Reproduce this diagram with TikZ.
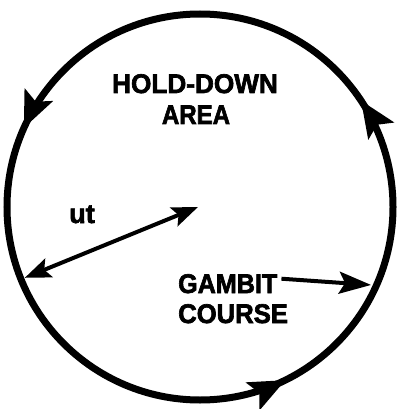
\documentclass[tikz,border=0pt]{standalone}
\usepackage{fontspec}
\setmainfont{Liberation Sans}[BoldFeatures={FakeBold=2.5}]
\usetikzlibrary{arrows.meta,decorations.markings,calc}
\tikzset{
  lbl/.style={font=\fontsize{27}{30}\selectfont\bfseries, inner sep=0pt},
  ring/.style={line width=7pt},
  conn/.style={line width=4pt},
  ctip/.tip={Stealth[length=26pt,width=20pt,inset=5pt]},
  rtip/.tip={Stealth[length=36pt,width=30pt,inset=7pt]},
  gtip/.tip={Stealth[length=32pt,width=22pt,inset=6pt]}
}
\begin{document}
\begin{tikzpicture}[x=1pt,y=1pt]
\useasboundingbox (0,0) rectangle (400,-409);
\coordinate (c) at (200,-207);
% circle with direction marks (counterclockwise)
\draw[ring, postaction={decorate}, decoration={markings,
  mark=at position 0.093 with {\arrow{rtip}},
  mark=at position 0.433 with {\arrow{rtip}},
  mark=at position 0.823 with {\arrow{rtip}}}]
  (c) circle [radius=193];
\coordinate (rimL) at ($(c)+(202:189)$);
\coordinate (ctr) at (198,-207);
\coordinate (rimR) at ($(c)+(-24.5:188)$);
% texts
\node[lbl, anchor=base] (hold) at (195,-93) {\scalebox{0.97}[1]{HOLD-DOWN}};
\node[lbl, anchor=base] (area) at (196,-124) {\scalebox{0.89}[1]{AREA}};
\node[lbl, anchor=base west] (gambit) at (178,-293) {\scalebox{0.93}[1]{GAMBIT}};
\node[lbl, anchor=base west] (course) at (178,-323) {\scalebox{0.95}[1]{COURSE}};
\node[lbl, anchor=base] (ut) at (82,-223) {ut};
% connectors
\draw[conn, ctip-ctip] (rimL) -- (ctr);
\draw[conn, -gtip] ([xshift=4pt,yshift=5pt]gambit.east) -- (rimR);
\end{tikzpicture}
\end{document}
